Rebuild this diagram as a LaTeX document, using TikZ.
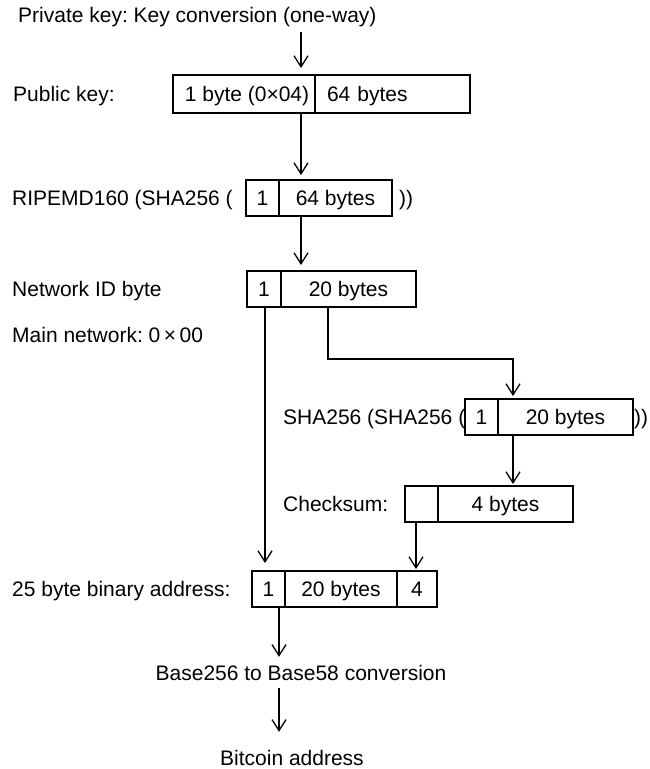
\documentclass[tikz,border=0pt]{standalone}
\usepackage{fontspec}
\setmainfont{Liberation Sans}
\usetikzlibrary{arrows.meta,positioning}
\frenchspacing

\begin{document}
\begin{tikzpicture}[
    x=1pt, y=-1pt,
    font=\fontsize{21pt}{25pt}\selectfont,
    cell/.style={draw, line width=1.1pt, outer sep=0pt, inner sep=0pt, minimum height=36pt, text height=15pt, text depth=0pt},
    txt/.style={anchor=west, inner sep=0pt, text height=15pt, text depth=0pt},
    arrow/.style={-{Straight Barb[length=11pt,width=14pt]}, line width=1.3pt}
]
    \useasboundingbox (0,0) rectangle (650,769);

    \node[txt] (title) at (18,15) {Private key: Key conversion (one-way)};

    \node[txt] (pklabel) at (13,94) {Public key:};
    \node[cell, minimum height=38pt, minimum width=142pt, anchor=west] (pk1) at (173,94) {\hspace{6pt}1 byte (0×04)};
    \node[cell, minimum height=38pt, right=0pt of pk1, inner xsep=12pt, text width=131pt, align=left] (pk2) {64 bytes};

    \node[txt] (ripelabel) at (12,198) {RIPEMD160 (SHA256 (};
    \node[cell, minimum width=33pt, anchor=west] (rp1) at (246,198) {1};
    \node[cell, minimum width=113pt, right=0pt of rp1] (rp2) {64 bytes};
    \node[txt] (ripeclose) at (399,198) {))};

    \node[txt] (netlabel) at (12,289) {Network ID byte};
    \node[cell, minimum width=34pt, anchor=west] (nid1) at (247,289) {1};
    \node[cell, minimum width=135pt, right=0pt of nid1] (nid2) {20 bytes};
    \node[txt] (mainlabel) at (12,335) {Main network: 0\,×\,00};

    \node[txt] (shalabel) at (283,417) {SHA256 (SHA256 (};
    \node[cell, minimum width=33pt, anchor=west] (sh1) at (465,417) {1};
    \node[cell, minimum width=135pt, right=0pt of sh1] (sh2) {20 bytes};
    \node[txt] (shaclose) at (634,417) {))};

    \node[txt] (cklabel) at (283,504) {Checksum:};
    \node[cell, minimum width=33pt, anchor=west] (ck1) at (405,504) {};
    \node[cell, minimum width=135pt, right=0pt of ck1] (ck2) {4 bytes};

    \node[txt] (addrlabel) at (12,589) {25 byte binary address:};
    \node[cell, minimum width=33pt, anchor=west] (ad1) at (252,589) {1};
    \node[cell, minimum width=112pt, right=0pt of ad1] (ad2) {20 bytes};
    \node[cell, minimum width=40pt, right=0pt of ad2] (ad3) {4};

    \node[txt, anchor=center] (b58) at (301,673) {Base256 to Base58 conversion};
    \node[txt, anchor=center] (btc) at (292,758) {Bitcoin address};

    \coordinate (spine) at (301,0);
    \coordinate (leftdrop) at (265,0);
    \coordinate (rightdrop) at (328,0);
    \coordinate (turn) at (513,359);
    \coordinate (ckdrop) at (416,0);
    \coordinate (outdrop) at (279,0);

    \draw[arrow, shorten <=9.5pt, shorten >=7pt] (title.south -| spine) -- (pk1.north -| spine);
    \draw[arrow, shorten >=5pt] (pk1.south -| spine) -- (rp2.north -| spine);
    \draw[arrow, shorten >=6pt] (rp2.south -| spine) -- (nid2.north -| spine);
    \draw[arrow, shorten >=8pt] (nid1.south -| leftdrop) -- (ad1.north -| leftdrop);
    \draw[arrow, shorten >=3pt] (nid2.south -| rightdrop) |- (turn) -- (sh2.north -| turn);
    \draw[arrow, shorten >=2pt] (sh2.south -| turn) -- (ck2.north -| turn);
    \draw[arrow, shorten >=2pt] (ck1.south -| ckdrop) -- (ad3.north -| ckdrop);
    \draw[arrow, shorten >=8.5pt] (ad1.south -| outdrop) -- (b58.north -| outdrop);
    \draw[arrow, shorten <=7.5pt, shorten >=18.5pt] (b58.south -| outdrop) -- (btc.north -| outdrop);

\end{tikzpicture}
\end{document}
